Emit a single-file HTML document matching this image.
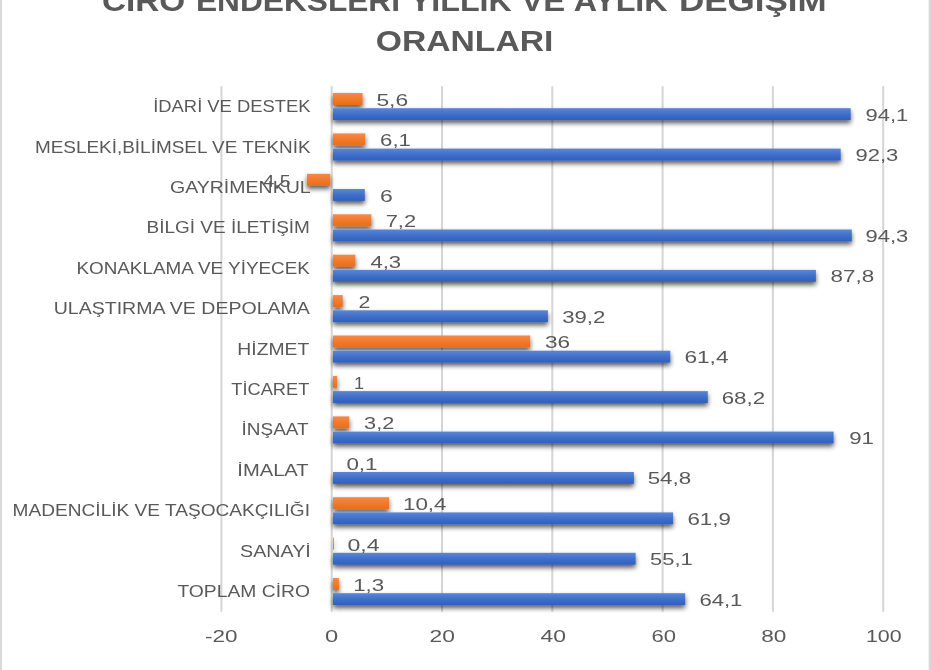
<!DOCTYPE html>
<html lang="tr">
<head>
<meta charset="utf-8">
<title>Ciro Endeksleri Yıllık ve Aylık Değişim Oranları</title>
<style>
html,body{margin:0;padding:0;background:#fff;}
body{width:931px;height:670px;overflow:hidden;position:relative;}
svg{display:block;position:absolute;left:0;top:0;}
.t{font-family:"Liberation Sans",sans-serif;font-size:17px;fill:#595959;}
.h{font-family:"Liberation Sans",sans-serif;font-size:30px;font-weight:bold;fill:#595959;}
.g{stroke:#d5d5d5;stroke-width:2;}
.soft{filter:blur(0.35px);}
</style>
</head>
<body>
<svg width="931" height="670" viewBox="0 0 931 670">
<defs>
<linearGradient id="gb" x1="0" y1="0" x2="0" y2="1"><stop offset="0" stop-color="#5d86d2"/><stop offset="0.5" stop-color="#3f6fc8"/><stop offset="1" stop-color="#2f60c0"/></linearGradient>
<linearGradient id="go" x1="0" y1="0" x2="0" y2="1"><stop offset="0" stop-color="#f28a4b"/><stop offset="0.5" stop-color="#f07a2c"/><stop offset="1" stop-color="#ea6d17"/></linearGradient>
<filter id="sh" x="-5%" y="-60%" width="110%" height="260%"><feGaussianBlur in="SourceAlpha" stdDeviation="2.8"/><feOffset dx="0" dy="2.8"/><feComponentTransfer><feFuncA type="linear" slope="0.66"/></feComponentTransfer><feMerge><feMergeNode/><feMergeNode in="SourceGraphic"/></feMerge></filter>
</defs>
<rect x="0" y="0" width="931" height="670" fill="#ffffff"/>
<rect x="0" y="0" width="2.1" height="670" fill="#d9d9d9"/>
<rect x="928.6" y="0" width="2.4" height="670" fill="#d9d9d9"/>

<g class="g">
<line x1="221.4" y1="86.3" x2="221.4" y2="611.8"/>
<line x1="331.7" y1="86.3" x2="331.7" y2="611.8"/>
<line x1="442.0" y1="86.3" x2="442.0" y2="611.8"/>
<line x1="552.3" y1="86.3" x2="552.3" y2="611.8"/>
<line x1="662.6" y1="86.3" x2="662.6" y2="611.8"/>
<line x1="772.9" y1="86.3" x2="772.9" y2="611.8"/>
<line x1="883.2" y1="86.3" x2="883.2" y2="611.8"/>
</g>
<g filter="url(#sh)">
<rect x="333.0" y="93.0" width="29.6" height="12" fill="url(#go)"/>
<rect x="333.0" y="108.2" width="517.7" height="11.9" fill="url(#gb)"/>
<rect x="333.0" y="133.4" width="32.3" height="12" fill="url(#go)"/>
<rect x="333.0" y="148.6" width="507.7" height="11.9" fill="url(#gb)"/>
<rect x="306.9" y="173.8" width="23.5" height="12" fill="url(#go)"/>
<rect x="333.0" y="189.0" width="31.8" height="11.9" fill="url(#gb)"/>
<rect x="333.0" y="214.3" width="38.4" height="12" fill="url(#go)"/>
<rect x="333.0" y="229.5" width="518.8" height="11.9" fill="url(#gb)"/>
<rect x="333.0" y="254.7" width="22.4" height="12" fill="url(#go)"/>
<rect x="333.0" y="269.9" width="482.9" height="11.9" fill="url(#gb)"/>
<rect x="333.0" y="295.1" width="9.7" height="12" fill="url(#go)"/>
<rect x="333.0" y="310.3" width="214.9" height="11.9" fill="url(#gb)"/>
<rect x="333.0" y="335.5" width="197.2" height="12" fill="url(#go)"/>
<rect x="333.0" y="350.7" width="337.3" height="11.9" fill="url(#gb)"/>
<rect x="333.0" y="375.9" width="4.2" height="12" fill="url(#go)"/>
<rect x="333.0" y="391.1" width="374.8" height="11.9" fill="url(#gb)"/>
<rect x="333.0" y="416.4" width="16.3" height="12" fill="url(#go)"/>
<rect x="333.0" y="431.6" width="500.6" height="11.9" fill="url(#gb)"/>
<rect x="333.0" y="472.0" width="300.9" height="11.9" fill="url(#gb)"/>
<rect x="333.0" y="497.2" width="56.1" height="12" fill="url(#go)"/>
<rect x="333.0" y="512.4" width="340.1" height="11.9" fill="url(#gb)"/>
<rect x="333.0" y="537.6" width="0.9" height="12" fill="url(#go)"/>
<rect x="333.0" y="552.8" width="302.6" height="11.9" fill="url(#gb)"/>
<rect x="333.0" y="578.0" width="5.9" height="12" fill="url(#go)"/>
<rect x="333.0" y="593.2" width="352.2" height="11.9" fill="url(#gb)"/>
</g>
<g class="soft">
<text class="t" x="153.2" y="112.1" textLength="157.4" lengthAdjust="spacingAndGlyphs">İDARİ VE DESTEK</text>
<text class="t" x="376.4" y="105.8" textLength="31.8" lengthAdjust="spacingAndGlyphs">5,6</text>
<text class="t" x="865.5" y="120.6" textLength="42.8" lengthAdjust="spacingAndGlyphs">94,1</text>
<text class="t" x="34.9" y="152.5" textLength="275.7" lengthAdjust="spacingAndGlyphs">MESLEKİ,BİLİMSEL VE TEKNİK</text>
<text class="t" x="380.1" y="146.3" textLength="30.8" lengthAdjust="spacingAndGlyphs">6,1</text>
<text class="t" x="855.5" y="161.1" textLength="42.8" lengthAdjust="spacingAndGlyphs">92,3</text>
<text class="t" x="170.0" y="192.9" textLength="140.6" lengthAdjust="spacingAndGlyphs">GAYRİMENKUL</text>
<text class="t" y="186.7"><tspan x="260.3" textLength="3.4" lengthAdjust="spacingAndGlyphs">-</tspan><tspan x="263.6" textLength="27" lengthAdjust="spacingAndGlyphs">4,5</tspan></text>
<text class="t" x="380.1" y="201.5" textLength="12.8" lengthAdjust="spacingAndGlyphs">6</text>
<text class="t" x="146.6" y="233.3" textLength="163.3" lengthAdjust="spacingAndGlyphs">BİLGİ VE İLETİŞİM</text>
<text class="t" x="385.7" y="227.1" textLength="30.4" lengthAdjust="spacingAndGlyphs">7,2</text>
<text class="t" x="865.5" y="241.9" textLength="42.8" lengthAdjust="spacingAndGlyphs">94,3</text>
<text class="t" x="76.4" y="273.7" textLength="233.5" lengthAdjust="spacingAndGlyphs">KONAKLAMA VE YİYECEK</text>
<text class="t" x="370.4" y="267.5" textLength="30.8" lengthAdjust="spacingAndGlyphs">4,3</text>
<text class="t" x="830.6" y="282.3" textLength="43.7" lengthAdjust="spacingAndGlyphs">87,8</text>
<text class="t" x="53.7" y="314.2" textLength="256.2" lengthAdjust="spacingAndGlyphs">ULAŞTIRMA VE DEPOLAMA</text>
<text class="t" x="358.4" y="307.9" textLength="11.8" lengthAdjust="spacingAndGlyphs">2</text>
<text class="t" x="562.2" y="322.7" textLength="43.1" lengthAdjust="spacingAndGlyphs">39,2</text>
<text class="t" x="237.3" y="354.6" textLength="72.0" lengthAdjust="spacingAndGlyphs">HİZMET</text>
<text class="t" x="544.9" y="348.4" textLength="25.1" lengthAdjust="spacingAndGlyphs">36</text>
<text class="t" x="684.4" y="363.2" textLength="44.1" lengthAdjust="spacingAndGlyphs">61,4</text>
<text class="t" x="231.3" y="395.0" textLength="78.0" lengthAdjust="spacingAndGlyphs">TİCARET</text>
<text class="t" x="354.1" y="388.8" textLength="10.1" lengthAdjust="spacingAndGlyphs">1</text>
<text class="t" x="721.7" y="403.6" textLength="43.4" lengthAdjust="spacingAndGlyphs">68,2</text>
<text class="t" x="241.6" y="435.4" textLength="67.0" lengthAdjust="spacingAndGlyphs">İNŞAAT</text>
<text class="t" x="364.1" y="429.2" textLength="30.1" lengthAdjust="spacingAndGlyphs">3,2</text>
<text class="t" x="849.2" y="444.0" textLength="24.8" lengthAdjust="spacingAndGlyphs">91</text>
<text class="t" x="237.3" y="475.8" textLength="71.3" lengthAdjust="spacingAndGlyphs">İMALAT</text>
<text class="t" x="346.4" y="469.6" textLength="31.1" lengthAdjust="spacingAndGlyphs">0,1</text>
<text class="t" x="647.7" y="484.4" textLength="43.5" lengthAdjust="spacingAndGlyphs">54,8</text>
<text class="t" x="12.6" y="516.3" textLength="297.4" lengthAdjust="spacingAndGlyphs">MADENCİLİK VE TAŞOCAKÇILIĞI</text>
<text class="t" x="403.0" y="510.0" textLength="43.5" lengthAdjust="spacingAndGlyphs">10,4</text>
<text class="t" x="687.4" y="524.8" textLength="43.4" lengthAdjust="spacingAndGlyphs">61,9</text>
<text class="t" x="240.1" y="556.7" textLength="70.6" lengthAdjust="spacingAndGlyphs">SANAYİ</text>
<text class="t" x="347.4" y="550.5" textLength="32.1" lengthAdjust="spacingAndGlyphs">0,4</text>
<text class="t" x="650.1" y="565.3" textLength="42.7" lengthAdjust="spacingAndGlyphs">55,1</text>
<text class="t" x="177.4" y="597.1" textLength="132.6" lengthAdjust="spacingAndGlyphs">TOPLAM CİRO</text>
<text class="t" x="353.2" y="590.9" textLength="31.0" lengthAdjust="spacingAndGlyphs">1,3</text>
<text class="t" x="699.4" y="605.7" textLength="43.0" lengthAdjust="spacingAndGlyphs">64,1</text>
</g>
<g class="soft">
<text class="t" x="205.1" y="642.4" textLength="32.5" lengthAdjust="spacingAndGlyphs">-20</text>
<text class="t" x="325.1" y="642.4" textLength="13.2" lengthAdjust="spacingAndGlyphs">0</text>
<text class="t" x="429.6" y="642.4" textLength="25.4" lengthAdjust="spacingAndGlyphs">20</text>
<text class="t" x="540.6" y="642.4" textLength="25.5" lengthAdjust="spacingAndGlyphs">40</text>
<text class="t" x="651.4" y="642.4" textLength="24.5" lengthAdjust="spacingAndGlyphs">60</text>
<text class="t" x="761.3" y="642.4" textLength="25.1" lengthAdjust="spacingAndGlyphs">80</text>
<text class="t" x="865.9" y="642.4" textLength="35.7" lengthAdjust="spacingAndGlyphs">100</text>
</g>
<g class="soft">
<text class="h" x="102.0" y="11.3" textLength="83.2" lengthAdjust="spacingAndGlyphs">CİRO</text>
<text class="h" x="196.0" y="11.3" textLength="204.0" lengthAdjust="spacingAndGlyphs">ENDEKSLERİ</text>
<text class="h" x="409.8" y="11.3" textLength="102.0" lengthAdjust="spacingAndGlyphs">YILLIK</text>
<text class="h" x="521.3" y="11.3" textLength="43.8" lengthAdjust="spacingAndGlyphs">VE</text>
<text class="h" x="573.8" y="11.3" textLength="93.8" lengthAdjust="spacingAndGlyphs">AYLIK</text>
<text class="h" x="678.9" y="11.3" textLength="147.7" lengthAdjust="spacingAndGlyphs">DEĞİŞİM</text>
<text class="h" x="375.7" y="50.5" textLength="177.7" lengthAdjust="spacingAndGlyphs">ORANLARI</text>
</g>
</svg>
</body>
</html>
